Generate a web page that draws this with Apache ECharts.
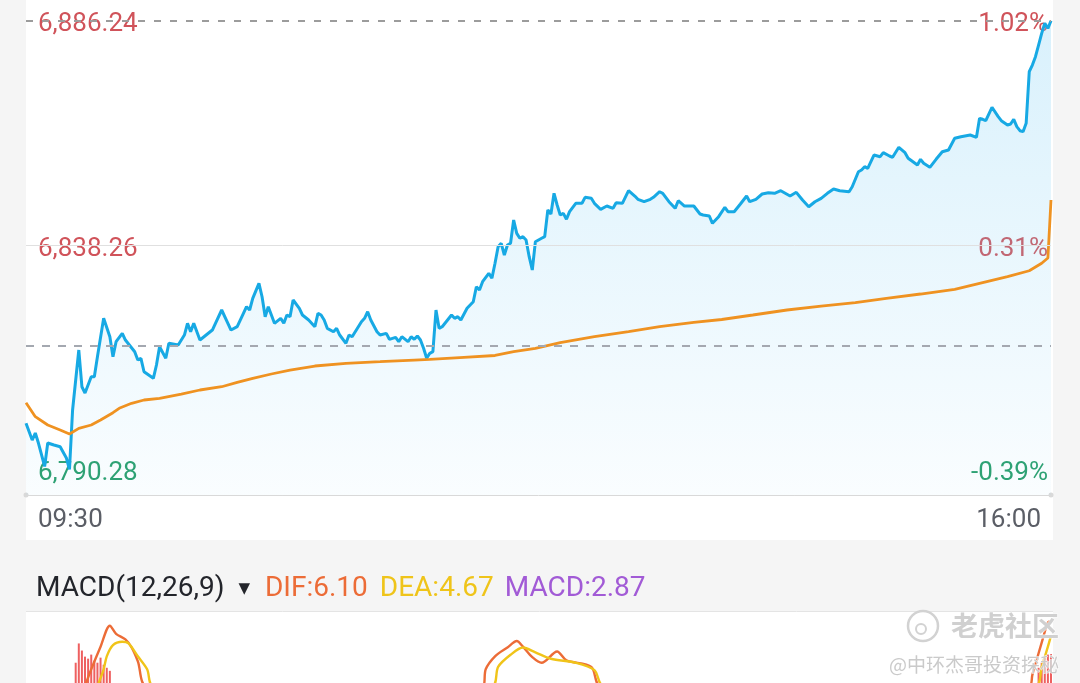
<!DOCTYPE html>
<html><head><meta charset="utf-8">
<script src="https://cdn.jsdelivr.net/npm/echarts@6/dist/echarts.min.js"></script>
<style>html,body{margin:0;padding:0;background:#f5f5f5;} #c{width:1080px;height:683px;}</style>
</head><body><div id="c"></div>
<script>
// ---- data ----
const prevClose = 6816.81;
const axisValues = [6886.24, 6838.26, 6790.28];
const timeTicks = [0, 330];
const timeLabels = ['09:30', '16:00'];

const priceMinute = [0,2,3,4,6,7,9,11,13,14,15,17,18,19,21,22,23,25,27,28,29,31,32,35,36,37,38,41,42,43,45,46,49,51,52,53,54,56,58,60,61,63,65,66,68,70,71,72,73,75,76,77,78,79,80,82,83,84,85,86,88,89,91,93,94,95,96,97,99,100,101,103,104,105,108,109,110,111,113,114,116,117,119,120,121,123,124,125,126,127,128,129,130,131,132,133,134,137,138,139,140,142,144,145,146,147,149,150,151,152,153,154,155,156,157,158,159,160,161,162,163,164,166,167,168,169,170,171,172,173,174,175,177,179,180,182,183,185,187,189,190,192,194,196,197,199,201,202,204,205,207,209,210,212,213,215,217,218,220,221,223,225,226,228,230,232,233,235,237,239,241,243,246,248,250,252,254,256,258,260,262,265,266,268,269,270,271,273,275,276,278,279,281,283,284,287,288,289,291,293,295,297,299,301,304,306,307,308,309,311,313,314,316,317,318,319,320,321,322,323,324,325,326,327,328,329,330];
const price = [6800.12,6796.55,6798.05,6795.91,6790.9,6795.91,6795.48,6795.12,6792.70,6790.28,6802.97,6815.80,6807.95,6806.60,6810.09,6810.09,6814.37,6822.58,6818.65,6814.37,6817.58,6819.37,6817.94,6815.44,6813.66,6814.03,6811.16,6809.75,6812.59,6816.51,6814.03,6817.24,6816.87,6819.01,6821.51,6819.72,6821.51,6817.94,6819.01,6820.08,6821.51,6824.36,6821.51,6820.08,6820.79,6823.65,6825.06,6824.36,6826.86,6830.07,6827.20,6822.93,6825.06,6823.29,6821.51,6822.58,6821.51,6823.29,6822.93,6826.50,6824.72,6823.29,6822.22,6820.79,6823.65,6823.29,6822.22,6820.44,6819.72,6820.44,6819.01,6817.24,6819.01,6818.65,6821.86,6822.58,6824.00,6822.22,6819.72,6819.01,6819.37,6818.09,6818.52,6817.58,6818.65,6817.58,6818.65,6818.09,6818.80,6817.94,6816.17,6814.03,6815.10,6815.44,6824.36,6820.44,6820.79,6823.29,6822.58,6822.93,6822.22,6824.72,6826.13,6829.34,6828.64,6830.41,6832.21,6831.14,6834.35,6837.90,6838.63,6836.12,6838.26,6838.63,6843.61,6840.76,6839.70,6840.04,6839.33,6835.76,6832.91,6838.97,6839.70,6840.04,6845.75,6844.89,6849.32,6846.82,6844.68,6845.04,6843.76,6845.39,6847.18,6847.18,6848.46,6848.25,6847.18,6845.90,6846.60,6846.11,6847.31,6847.18,6849.88,6848.74,6848.04,6847.52,6848.04,6848.46,6849.66,6849.32,6847.52,6846.11,6847.74,6846.60,6846.60,6846.60,6844.89,6844.68,6844.46,6842.90,6844.32,6846.33,6845.39,6845.39,6847.03,6848.74,6847.52,6848.04,6849.17,6849.45,6849.32,6849.88,6848.74,6849.53,6847.89,6846.45,6847.52,6848.25,6849.32,6850.24,6849.88,6849.66,6850.73,6853.94,6854.30,6855.01,6854.67,6857.51,6857.15,6858.01,6857.30,6857.02,6859.16,6858.01,6856.81,6855.37,6856.59,6855.74,6854.88,6856.59,6858.22,6858.58,6861.09,6861.43,6861.79,6861.30,6865.36,6865.15,6864.85,6867.72,6865.71,6864.85,6863.93,6864.14,6865.15,6863.57,6862.71,6862.50,6864.29,6875.33,6876.76,6878.54,6881.04,6883.54,6885.68,6884.61,6886.24];

const avgMinute = [0,3,7,11,14,17,21,24,28,30,34,38,43,50,56,63,68,73,79,85,93,103,114,125,130,141,151,157,164,172,183,194,204,215,224,234,245,256,267,277,288,299,307,316,323,327,329,330];
const avgPrice = [6804.53,6801.54,6799.76,6798.69,6797.83,6799.05,6799.76,6800.83,6802.39,6803.33,6804.40,6805.11,6805.47,6806.39,6807.25,6807.95,6808.89,6809.75,6810.67,6811.52,6812.38,6812.96,6813.30,6813.66,6813.81,6814.24,6814.63,6815.44,6816.17,6817.36,6818.65,6819.72,6820.79,6821.73,6822.33,6823.29,6824.36,6825.21,6825.92,6826.86,6827.78,6828.79,6830.07,6831.48,6832.76,6834.35,6835.48,6847.89];

const difMinute = [19,21,24,27,29,32,34,36,39,147,148,151,155,158,160,163,166,171,174,182,185,323,324,327,329,330];
const dif = [-0.3,1.35,3.58,5.65,4.85,4.30,3.50,2.15,-0.3,-0.3,1.35,2.63,3.50,4.14,3.58,2.55,1.99,3.10,2.23,1.59,-0.3,-0.3,0.80,3.98,5.97,6.10];
const deaMinute = [23,25,26,28,31,33,36,39,41,150,152,156,160,164,169,177,183,186,325,327,329,330];
const dea = [-0.3,1.35,2.63,3.74,4.06,3.90,2.63,1.35,-0.3,-0.3,1.59,2.78,3.50,3.02,2.39,1.99,1.27,-0.3,-0.3,1.59,3.58,4.67];
const macdMinute = [16,17,18,19,20,21,22,23,24,25,26,27,326,327,328,329,330];
const macd = [2.0,3.9,3.2,2.6,2.4,2.8,2.2,2.0,2.5,1.8,1.5,1.2,1.5,2.0,2.5,2.8,2.87];
const macdName = 'MACD(12,26,9)';
const watermark = ['老虎社区', '@中环杰哥投资探秘'];

// ---- chart ----
const pairs = (xs, ys) => xs.map((x, i) => [x, ys[i]]);
const fmtNum = v => v.toLocaleString('en-US', {minimumFractionDigits: 2, maximumFractionDigits: 2});
const RED = '#d0535a', GREEN = '#2a9f6d';
const yMin = 6784.79, yMax = 6886.24;
const lastDif = dif[dif.length - 1], lastDea = dea[dea.length - 1], lastMacd = macd[macd.length - 1];
const lbl = (c) => ({fontSize: 26, color: c, fontFamily: 'Roboto', padding: [8, 0, 0, 0]});

const chart = echarts.init(document.getElementById('c'), null, {renderer: 'canvas', width: 1080, height: 683});
chart.setOption({
  animation: false,
  backgroundColor: 'transparent',
  textStyle: {fontFamily: 'Roboto'},
  title: {
    left: 31, top: 567,
    text: '{n|' + macdName + '}{t|▼}{d|DIF:' + lastDif.toFixed(2) + '}{e|DEA:' + lastDea.toFixed(2) + '}{m|MACD:' + lastMacd.toFixed(2) + '}',
    textStyle: {
      fontWeight: 'normal',
      rich: {
        n: {fontSize: 28, fontWeight: 'normal', color: '#23252b', fontFamily: 'Roboto', lineHeight: 34},
        t: {fontSize: 15, fontWeight: 'normal', color: '#23252b', fontFamily: 'DejaVu Sans', padding: [0, 15, 0, 14], lineHeight: 34},
        d: {fontSize: 28, fontWeight: 'normal', color: '#ec6c37', fontFamily: 'Roboto', padding: [0, 12, 0, 0], lineHeight: 34},
        e: {fontSize: 28, fontWeight: 'normal', color: '#efc41a', fontFamily: 'Roboto', padding: [0, 11, 0, 0], lineHeight: 34},
        m: {fontSize: 28, fontWeight: 'normal', color: '#a25bd6', fontFamily: 'Roboto', lineHeight: 34}
      }
    }
  },
  graphic: [
    {type: 'rect', z: -10, shape: {x: 26, y: 0, width: 1027, height: 540}, style: {fill: '#ffffff'}},
    {type: 'rect', z: -10, shape: {x: 26, y: 611, width: 1027, height: 80}, style: {fill: '#ffffff'}},
    {type: 'line', z: -9, shape: {x1: 26, y1: 611.5, x2: 1053, y2: 611.5}, style: {stroke: '#e4e4e4', lineWidth: 1}},
    {type: 'circle', z: 50, shape: {cx: 923, cy: 626, r: 15}, style: {fill: 'rgba(255,255,255,0.5)', stroke: '#d2d2d2', lineWidth: 2.5}},
    {type: 'circle', z: 51, shape: {cx: 921, cy: 629, r: 5}, style: {fill: 'none', stroke: '#d2d2d2', lineWidth: 2}},
    {type: 'text', z: 50, x: 951, y: 626, style: {text: watermark[0], font: 'bold 27px "Noto Sans CJK SC"', fill: '#d0d0d0', stroke: 'rgba(255,255,255,0.8)', lineWidth: 1, textVerticalAlign: 'middle'}},
    {type: 'text', z: 50, x: 889, y: 665, style: {text: watermark[1], font: '19px "Noto Sans CJK SC"', fill: '#cacaca', stroke: 'rgba(255,255,255,0.8)', lineWidth: 1, textVerticalAlign: 'middle'}}
  ],
  grid: [
    {left: 26, right: 29, top: 20.7, bottom: 188, containLabel: false},
    {left: 26, right: 29, top: 612, height: 88, containLabel: false}
  ],
  xAxis: [
    {
      type: 'value', gridIndex: 0, min: 0, max: 330,
      axisLine: {show: true, lineStyle: {color: '#d9d9d9', width: 1}, symbol: ['circle', 'circle'], symbolSize: [5, 5]},
      axisTick: {show: false}, splitLine: {show: false},
      axisLabel: {
        customValues: timeTicks, margin: 12, fontSize: 26, color: '#5b5e66', fontFamily: 'Roboto',
        alignMinLabel: 'left', alignMaxLabel: 'right',
        formatter: v => {
          const i = timeTicks.indexOf(v);
          return i === 0 ? '{l|' + timeLabels[0] + '}' : '{r|' + timeLabels[i] + '}';
        },
        rich: {
          l: {fontSize: 26, color: '#5b5e66', fontFamily: 'Roboto', padding: [0, 0, 0, 12]},
          r: {fontSize: 26, color: '#5b5e66', fontFamily: 'Roboto', padding: [0, 10, 0, 0]}
        }
      }
    },
    {type: 'value', gridIndex: 1, min: 0, max: 330, show: false}
  ],
  yAxis: [
    {
      type: 'value', gridIndex: 0, min: yMin, max: yMax, position: 'left',
      axisLine: {show: false}, axisTick: {show: false}, splitLine: {show: false},
      axisLabel: {
        inside: true, margin: 12, customValues: axisValues, showMaxLabel: true, showMinLabel: true,
        formatter: v => (v >= prevClose ? '{u|' : '{g|') + fmtNum(v) + '}',
        rich: {u: lbl(RED), g: lbl(GREEN)}
      }
    },
    {
      type: 'value', gridIndex: 0, min: yMin, max: yMax, position: 'right',
      axisLine: {show: false}, axisTick: {show: false}, splitLine: {show: false},
      axisLabel: {
        inside: true, margin: 3, customValues: axisValues, showMaxLabel: true, showMinLabel: true,
        formatter: v => {
          const p = (v / prevClose - 1) * 100;
          return (v >= prevClose ? '{u|' : '{g|') + p.toFixed(2) + '%}';
        },
        rich: {u: lbl(RED), g: lbl(GREEN)}
      }
    },
    {type: 'value', gridIndex: 1, min: 0, max: 7, show: false}
  ],
  series: [
    {
      type: 'line', xAxisIndex: 0, yAxisIndex: 0, data: pairs(priceMinute, price),
      showSymbol: false, z: 3,
      lineStyle: {color: '#17a9e4', width: 3},
      areaStyle: {
        origin: 'start',
        color: new echarts.graphic.LinearGradient(0, 0, 0, 1, [
          {offset: 0, color: 'rgba(120,205,245,0.40)'},
          {offset: 1, color: 'rgba(120,205,245,0.06)'}
        ])
      },
      markLine: {
        silent: true, symbol: ['none', 'none'], label: {show: false},
        data: [
          {yAxis: axisValues[0], lineStyle: {type: [7, 9], color: '#9c9c9c', width: 2}},
          {yAxis: axisValues[1], lineStyle: {type: 'solid', color: '#e0e0e0', width: 1}},
          {yAxis: prevClose, lineStyle: {type: [8, 8], color: '#a4a8b0', width: 2}}
        ]
      }
    },
    {
      type: 'line', xAxisIndex: 0, yAxisIndex: 0, data: pairs(avgMinute, avgPrice),
      showSymbol: false, z: 4,
      lineStyle: {color: '#ef9221', width: 2.8}
    },
    {
      type: 'bar', xAxisIndex: 1, yAxisIndex: 2, data: pairs(macdMinute, macd),
      barWidth: 2, itemStyle: {color: '#ee6060'}
    },
    {
      type: 'line', xAxisIndex: 1, yAxisIndex: 2, data: pairs(difMinute, dif),
      showSymbol: false, smooth: 0.3, lineStyle: {color: '#ec6c37', width: 2.4}
    },
    {
      type: 'line', xAxisIndex: 1, yAxisIndex: 2, data: pairs(deaMinute, dea),
      showSymbol: false, smooth: 0.3, lineStyle: {color: '#f0c419', width: 2.4}
    }
  ]
});
</script>
</body></html>
